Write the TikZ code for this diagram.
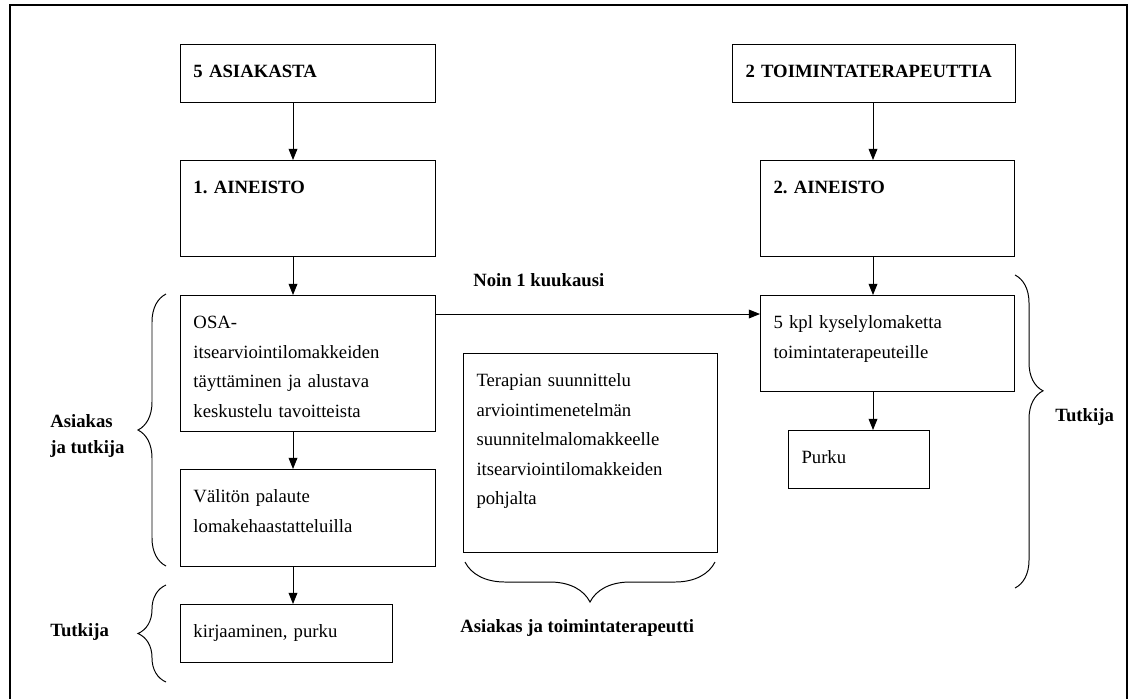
\documentclass[tikz,border=0pt]{standalone}
\usepackage{fontspec}
\setmainfont{Liberation Serif}
\usetikzlibrary{arrows.meta,decorations.pathreplacing}
\newcommand\fs{\fontsize{13.3}{21}\selectfont}
\tikzset{
  box/.style={draw, line width=0.7pt, anchor=north west, align=left, font=\fs,
    inner xsep=0.325cm, inner ysep=0.3cm, text height=0.525cm},
  title/.style={font=\fs\bfseries},
  arr/.style={line width=0.7pt, -{Triangle[length=0.28cm,width=0.22cm]}},
  brc/.style={line width=0.7pt, decorate, decoration={brace, amplitude=#1}},
  lbl/.style={font=\fontsize{13.3}{18}\selectfont\bfseries, align=left, inner sep=0pt, anchor=west},
}
\frenchspacing
\begin{document}
\begin{tikzpicture}[x=0.025cm, y=-0.025cm]
  \useasboundingbox (0,0) rectangle (1128,699);
  \draw[line width=1pt] (10,699) -- (10,5) -- (1127,5) -- (1127,699);
  % left column
  \node[box, title, text width=5.725cm, text depth=0.325cm] (asiakkaat) at (180,44) {5 ASIAKASTA};
  \node[box, title, text width=5.725cm, text depth=1.275cm] (aineisto1) at (180,160) {1.\ AINEISTO};
  \node[box, text width=5.725cm, text depth=2.275cm] (osa) at (180,295)
    {OSA-\\itsearviointilomakkeiden\\täyttäminen ja alustava\\keskustelu tavoitteista};
  \node[box, text width=5.725cm, text depth=1.3cm] (palaute) at (180,469)
    {Välitön palaute\\lomakehaastatteluilla};
  \node[box, text width=4.65cm, text depth=0.325cm] (kirjaus) at (180,604) {kirjaaminen, purku};
  % middle
  \node[box, text width=5.7cm, text depth=3.85cm] (terapia) at (463,353)
    {Terapian suunnittelu\\arviointimenetelmän\\suunnitelmalomakkeelle\\itsearviointilomakkeiden\\pohjalta};
  % right column
  \node[box, title, text width=6.425cm, text depth=0.325cm] (terapeutit) at (732,44) {2 TOIMINTATERAPEUTTIA};
  \node[box, title, text width=5.7cm, text depth=1.275cm] (aineisto2) at (760,160) {2.\ AINEISTO};
  \node[box, text width=5.7cm, text depth=1.275cm] (kysely) at (760,295)
    {5 kpl kyselylomaketta\\toimintaterapeuteille};
  \node[box, text width=2.875cm, text depth=0.325cm] (purku) at (788,430) {Purku};
  % arrows
  \coordinate (lx) at (293,0);
  \coordinate (rx) at (873,0);
  \coordinate (kk) at (0,314);
  \draw[arr] (asiakkaat.south -| lx) -- (aineisto1.north -| lx);
  \draw[arr] (aineisto1.south -| lx) -- (osa.north -| lx);
  \draw[arr] (osa.south -| lx) -- (palaute.north -| lx);
  \draw[arr] (palaute.south -| lx) -- (kirjaus.north -| lx);
  \draw[arr] (terapeutit.south -| rx) -- (aineisto2.north -| rx);
  \draw[arr] (aineisto2.south -| rx) -- (kysely.north -| rx);
  \draw[arr] (kysely.south -| rx) -- (purku.north -| rx);
  \draw[arr] (osa.east |- kk) -- (kysely.west |- kk);
  % braces and labels
  \draw[brc=0.7cm] (166,566) -- (166,294);
  \draw[brc=0.7cm] (166,682) -- (166,585);
  \draw[brc=0.7cm, decoration={aspect=0.37}] (1015,275) -- (1015,588);
  \draw[brc=1cm] (715,562) -- (465,562);
  \node[lbl] (asiakastutkija) at (50,436) {Asiakas\\ja tutkija};
  \node[lbl] (tutkijavas) at (50,632) {Tutkija};
  \node[lbl] (tutkijaoik) at (1055,417) {Tutkija};
  \node[lbl] (kuukausi) at (473,280) {Noin 1 kuukausi};
  \node[lbl] (asiakasterap) at (460,628) {Asiakas ja toimintaterapeutti};
\end{tikzpicture}
\end{document}
